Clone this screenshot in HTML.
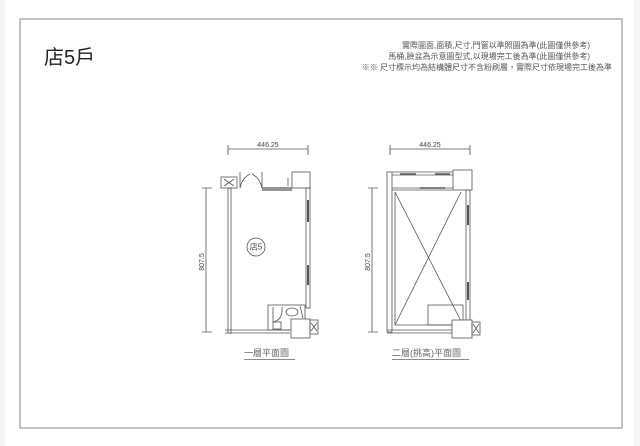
<!DOCTYPE html>
<html><head><meta charset="utf-8"><style>
html,body{margin:0;padding:0;background:#f5f5f5;}
svg{display:block}
text{font-family:"Liberation Sans","Noto Sans CJK TC",sans-serif;}
</style></head><body>
<svg width="640" height="446" viewBox="0 0 640 446" xmlns="http://www.w3.org/2000/svg">
<rect x="5" y="0" width="629" height="446" fill="#fff"/>
<rect x="20" y="19" width="602" height="409" fill="#fff" stroke="#999" stroke-width="1.2"/>
<text x="44" y="64" font-size="20" fill="#222">店5戶</text>
<g font-size="8" fill="#555" text-anchor="end">
<text x="590" y="48">實際圖面,面積,尺寸,門窗以準照圖為準(此圖僅供參考)</text>
<text x="590" y="59">馬桶,臉盆為示意圖型式,以現場完工後為準(此圖僅供參考)</text>
<text x="612" y="70">※※ 尺寸標示均為結構體尺寸不含粉刷層，實際尺寸依現場完工後為準</text>
</g>
<g stroke="#555" fill="none" stroke-width="0.8">
<path d="M228 149H308 M228 145V155 M308 145V155"/>
<path d="M206 188V332 M202 188H212 M202 332H212"/>
<rect x="228" y="188" width="3" height="145"/>
<path d="M225 330H290 M225 333H290"/>
<rect x="221" y="177" width="16" height="11"/><path d="M224 179L234 186M234 179L224 186"/>
<path d="M240 172V188 M240 188Q242 178 250 174 M262 172V188 M262 188Q260 178 252 174"/>
<path d="M262 188H292 M262 190H292" stroke-width="1.2"/>
<rect x="292" y="172" width="18" height="16"/>
<path d="M288 178V186"/>
<rect x="306" y="188" width="4" height="120"/>
<path d="M308 200V222 M308 265V285" stroke-width="2"/>
<circle cx="256" cy="247" r="9"/>
<rect x="268" y="305" width="37" height="25"/>
<path d="M273 307V322 M273 322Q283 320 282 307"/>
<ellipse cx="292" cy="312" rx="6" ry="4"/>
<path d="M300 306L303 318"/>
<rect x="273" y="322" width="8" height="7"/>
<rect x="291" y="319" width="19" height="19" fill="#fff"/>
<rect x="310" y="320" width="8" height="14"/><path d="M311 323L317 331M317 323L311 331"/>
<path d="M390 149H470 M390 145V155 M470 145V155"/>
<path d="M372 188V332 M368 188H378 M368 332H378"/>
<rect x="387" y="172" width="5" height="160"/>
<path d="M392 172H453 M392 175H453 M392 188H453 M392 190H453"/>
<path d="M400 174H416 M435 174H450 M420 188H445" stroke-width="1.5"/>
<rect x="453" y="170" width="19" height="20"/>
<rect x="466" y="190" width="4" height="130"/>
<path d="M468 205V225 M468 282V300" stroke-width="2"/>
<path d="M395 192L463 325 M461 192L395 325 M395 192V325H463"/>
<rect x="428" y="305" width="35" height="20"/>
<path d="M387 330H452 M387 333H452"/>
<rect x="452" y="320" width="20" height="18" fill="#fff"/>
<rect x="472" y="322" width="8" height="13"/><path d="M473 324L479 333M479 324L473 333"/>
</g>
<g font-size="7" fill="#444">
<text x="256" y="249.5" font-size="8" text-anchor="middle">店5</text>
<text x="268" y="147" text-anchor="middle">446.25</text>
<text x="430" y="147" text-anchor="middle">446.25</text>
<text transform="translate(204 262) rotate(-90)" text-anchor="middle">807.5</text>
<text transform="translate(370 262) rotate(-90)" text-anchor="middle">807.5</text>
</g>
<g font-size="9" fill="#666">
<text x="244" y="356" font-family="'Liberation Serif','Noto Serif CJK SC',serif">一層平面圖</text>
<text x="392" y="356" font-family="'Liberation Serif','Noto Serif CJK SC',serif">二層(挑高)平面圖</text>
</g>
<path d="M244 359.5H295 M392 359.5H469" stroke="#666" stroke-width="0.8"/>
</svg>
</body></html>
